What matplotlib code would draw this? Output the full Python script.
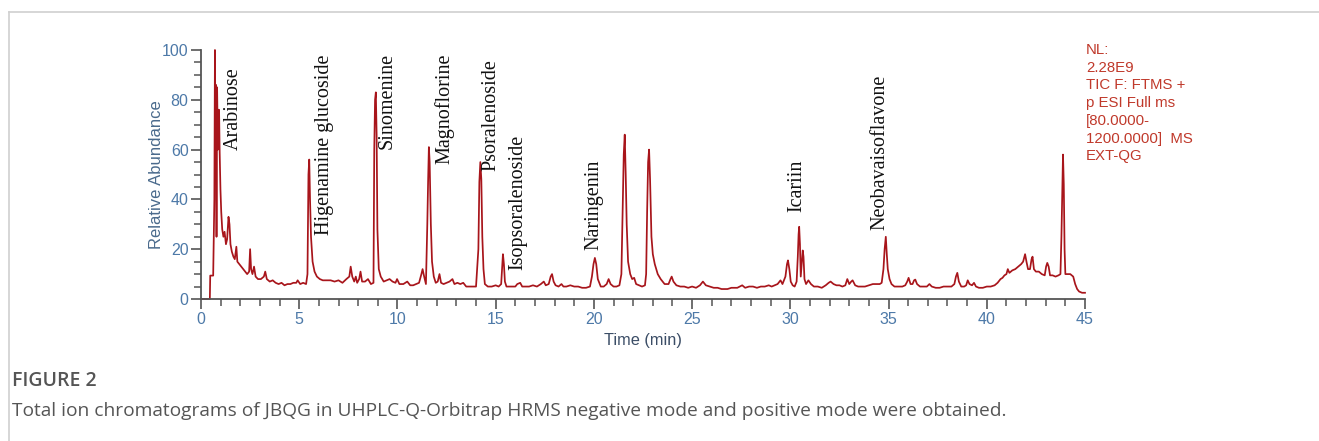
import matplotlib
matplotlib.use("Agg")
import matplotlib.pyplot as plt
from matplotlib.lines import Line2D
from matplotlib.ticker import MultipleLocator

# ---------------- data ----------------
time_min = [
    0.0, 0.45, 0.47, 0.62, 0.64, 0.68, 0.71, 0.74, 0.76, 0.79, 0.82, 0.86, 0.89, 0.92, 0.95, 0.99,
    1.03, 1.08, 1.14, 1.2, 1.27, 1.33, 1.4, 1.45, 1.5, 1.57, 1.65, 1.72, 1.8, 1.85, 1.95,
    2.05, 2.15, 2.25, 2.35, 2.45, 2.5, 2.55, 2.62, 2.7, 2.78, 2.9, 3.05, 3.2, 3.27, 3.35,
    3.5, 3.65, 3.8, 3.95, 4.1, 4.25, 4.4, 4.55, 4.7, 4.85, 4.92, 5.05, 5.2, 5.35, 5.42,
    5.47, 5.51, 5.55, 5.6, 5.68, 5.78, 5.9, 6.05, 6.2, 6.4, 6.6, 6.8, 7.0, 7.2, 7.4,
    7.55, 7.62, 7.7, 7.8, 7.88, 7.95, 8.05, 8.12, 8.2, 8.35, 8.5, 8.65, 8.78, 8.82, 8.86,
    8.9, 8.94, 8.98, 9.05, 9.15, 9.3, 9.45, 9.6, 9.75, 9.9, 9.98, 10.1, 10.3, 10.5, 10.65,
    10.8, 10.95, 11.1, 11.22, 11.28, 11.36, 11.45, 11.52, 11.56, 11.6, 11.64, 11.7, 11.76, 11.85, 11.95,
    12.05, 12.14, 12.22, 12.35, 12.5, 12.65, 12.8, 12.9, 13.05, 13.2, 13.35, 13.5, 13.7, 13.85, 14.0,
    14.12, 14.17, 14.22, 14.27, 14.32, 14.38, 14.45, 14.6, 14.8, 15.0, 15.15, 15.28, 15.33, 15.37, 15.42,
    15.47, 15.55, 15.7, 15.85, 16.0, 16.1, 16.25, 16.35, 16.5, 16.7, 16.9, 17.1, 17.3, 17.45, 17.55,
    17.7, 17.8, 17.87, 17.95, 18.05, 18.2, 18.35, 18.45, 18.6, 18.8, 19.0, 19.2, 19.4, 19.6, 19.8,
    19.9, 19.98, 20.05, 20.12, 20.2, 20.35, 20.5, 20.65, 20.75, 20.85, 21.0, 21.15, 21.3, 21.4, 21.45,
    21.52, 21.57, 21.62, 21.67, 21.74, 21.85, 21.95, 22.05, 22.15, 22.3, 22.45, 22.6, 22.66, 22.71, 22.76,
    22.81, 22.86, 22.93, 23.0, 23.1, 23.25, 23.4, 23.6, 23.8, 23.9, 23.96, 24.05, 24.2, 24.4, 24.6,
    24.8, 25.0, 25.2, 25.4, 25.55, 25.7, 25.9, 26.1, 26.3, 26.5, 26.8, 27.0, 27.3, 27.55, 27.7,
    27.9, 28.1, 28.3, 28.5, 28.7, 28.9, 29.05, 29.2, 29.35, 29.5, 29.6, 29.75, 29.83, 29.88, 29.95,
    30.02, 30.12, 30.22, 30.32, 30.38, 30.42, 30.45, 30.49, 30.53, 30.58, 30.63, 30.67, 30.72, 30.8, 30.92,
    31.05, 31.2, 31.4, 31.6, 31.8, 31.95, 32.05, 32.2, 32.35, 32.5, 32.65, 32.8, 32.9, 33.0, 33.1,
    33.17, 33.3, 33.45, 33.6, 33.8, 34.0, 34.2, 34.4, 34.55, 34.65, 34.74, 34.8, 34.86, 34.91, 34.96,
    35.05, 35.15, 35.3, 35.5, 35.7, 35.85, 35.95, 36.02, 36.12, 36.22, 36.3, 36.36, 36.45, 36.6, 36.8,
    36.95, 37.08, 37.2, 37.4, 37.6, 37.8, 38.0, 38.2, 38.35, 38.43, 38.5, 38.58, 38.7, 38.85, 38.95,
    39.03, 39.12, 39.25, 39.35, 39.45, 39.6, 39.8, 40.0, 40.2, 40.4, 40.55, 40.7, 40.8, 40.9, 41.0,
    41.07, 41.15, 41.3, 41.45, 41.6, 41.75, 41.85, 41.95, 42.02, 42.1, 42.2, 42.28, 42.33, 42.4, 42.5,
    42.65, 42.8, 42.95, 43.02, 43.08, 43.15, 43.22, 43.35, 43.5, 43.65, 43.75, 43.8, 43.85, 43.88, 43.92,
    43.96, 44.0, 44.1, 44.25, 44.4, 44.5, 44.6, 44.7, 44.85, 45.0,
]
relative_abundance = [
    0, 0, 9.4, 9.4, 20, 40, 100, 60, 86, 25, 85, 60, 76, 76, 59, 44,
    35, 28, 25, 27, 22, 24, 33, 30, 22, 19, 17, 16, 21, 15, 14,
    13, 12, 11, 10, 11, 20, 12, 10, 13, 9, 8, 8, 9, 11, 8,
    7, 7.5, 6.5, 6, 6.5, 5.5, 6, 6, 6.5, 6.5, 7.5, 6, 6.5, 6, 10,
    50, 56, 40, 25, 15, 11, 9, 8, 7.5, 7.5, 7.5, 7, 7.5, 6.5, 8,
    9, 13, 9, 7, 9, 6.5, 8, 11, 7, 7, 8, 6, 6.5, 60, 80,
    83, 66, 28, 12, 9, 7, 7.5, 8, 7, 6.5, 8, 6, 6, 7, 5.5,
    5.5, 6, 6.5, 10, 12, 9, 6, 30, 47, 61, 55, 30, 15, 9, 6.5,
    7, 10, 6.5, 6, 6.5, 7, 8, 6, 6.5, 6, 6.5, 5, 5, 5, 5,
    20, 47, 55, 48, 25, 12, 6, 5, 5, 5.5, 5, 6, 13, 18, 14,
    7, 5, 5, 5, 5, 6, 6.5, 5, 5, 5, 5.5, 5, 6, 7, 5.5,
    6, 9, 10, 7, 5.5, 5, 6, 5, 5, 5.5, 5, 5, 4.5, 4.5, 5,
    9, 14, 16.5, 14, 8, 5, 5, 6, 8, 6, 5, 5, 5.5, 10, 30,
    58, 66, 50, 30, 15, 10, 8, 8.5, 6, 5.5, 5, 5.5, 10, 35, 55,
    60, 48, 25, 18, 14, 10, 8, 6, 6, 8, 9, 7, 5.5, 5, 5,
    4.5, 5, 4.5, 5.5, 7, 5.5, 5, 4.5, 4.5, 4, 4, 4.5, 4.5, 5.5, 4.5,
    5, 5, 4.5, 5, 5, 5.5, 5, 5.5, 6, 7.5, 6, 9, 14, 15.5, 12,
    7, 5.5, 5, 7, 17, 26, 29, 22, 9, 14, 19.5, 17, 8, 6, 7.5,
    6, 5, 5, 4.5, 5.5, 6.5, 7, 6, 5.5, 5.5, 5, 5.5, 8, 6, 7,
    7.5, 5.5, 5, 5, 5, 5.5, 6, 6, 6, 6.5, 12, 20, 25, 18, 12,
    8, 6, 5, 5, 5, 5.5, 7, 8.5, 6, 6, 7.5, 7.8, 6, 5, 5,
    5, 6, 5, 4.5, 4.5, 5, 5, 5, 6, 9, 10.5, 7, 5, 5, 5.5,
    7.5, 6, 5.5, 6.5, 5, 4.5, 4.5, 5, 5, 5.5, 6.5, 8, 8.5, 9.5, 10,
    12, 10.5, 11.5, 12, 13, 14, 15, 18, 15, 12, 12, 16, 17, 12, 11,
    11, 10, 9.5, 13, 14.5, 13, 9.5, 9.5, 9, 9.5, 10, 25, 46, 58, 46,
    20, 10, 10, 10, 9, 6, 4, 3, 2.5, 2.5,
]

compound_names = ["Arabinose", "Higenamine glucoside", "Sinomenine", "Magnoflorine",
                  "Psoralenoside", "Isopsoralenoside", "Naringenin", "Icariin",
                  "Neobavaisoflavone"]
compound_x = [1.63, 6.31, 9.47, 12.37, 14.77, 16.14, 20.01, 30.35, 34.57]
compound_y = [59.8, 25.7, 60.2, 54.2, 51.4, 11.6, 19.7, 34.9, 27.7]

x_ticks = [0, 5, 10, 15, 20, 25, 30, 35, 40, 45]
y_ticks = [0, 20, 40, 60, 80, 100]

info_text = "NL:\n2.28E9\nTIC F: FTMS +\np ESI Full ms\n[80.0000-\n1200.0000]  MS\nEXT-QG"
caption_title = "FIGURE 2"
caption_body = ("Total ion chromatograms of JBQG in UHPLC-Q-Orbitrap HRMS negative mode "
                "and positive mode were obtained.")

# ---------------- figure ----------------
W, H = 1319, 441
fig = plt.figure(figsize=(W / 100, H / 100), dpi=100)
fig.patch.set_facecolor("white")

ax = fig.add_axes([201 / W, (H - 299) / H, (1085 - 201) / W, (299 - 50) / H])
line_color = "#a8151b"
ax.plot(time_min, relative_abundance, color=line_color, lw=1.25, clip_on=False)

ax.set_xlim(0, 45)
ax.set_ylim(0, 100)
for s in ["top", "right"]:
    ax.spines[s].set_visible(False)
for s in ["left", "bottom"]:
    ax.spines[s].set_color("#555555")
    ax.spines[s].set_linewidth(1.3)

ax.set_xticks(x_ticks)
ax.set_yticks(y_ticks)
ax.xaxis.set_minor_locator(MultipleLocator(1))
ax.yaxis.set_minor_locator(MultipleLocator(5))
tick_col = "#4d79a8"
ax.tick_params(axis="both", which="major", length=7, width=1.2, color="#555555",
               labelsize=11.5, labelcolor=tick_col, pad=2)
ax.tick_params(axis="both", which="minor", length=5, width=1.1, color="#555555")
for lab in ax.get_xticklabels() + ax.get_yticklabels():
    lab.set_family("Liberation Sans")

ax.set_xlabel("Time (min)", fontsize=11.8, color="#3b4d66", family="Liberation Sans", labelpad=5)
ax.set_ylabel("Relative Abundance", fontsize=12, color="#4a6a8c", family="Liberation Sans", labelpad=-1.5)

for name, x, y in zip(compound_names, compound_x, compound_y):
    ax.text(x, y, name, rotation=90, ha="center", va="bottom", fontsize=14.5,
            family="Liberation Serif", color="#111111", clip_on=False)

fig.text(1086 / W, 1 - 43 / H, info_text, ha="left", va="top", fontsize=10.8,
         family="Liberation Sans", color="#c0392b", linespacing=1.34)

# frame lines
fig.add_artist(Line2D([9 / W, 9 / W], [0, 1 - 12 / H], transform=fig.transFigure,
                      color="#d0d0d0", lw=1.2))
fig.add_artist(Line2D([9 / W, 1], [1 - 12 / H, 1 - 12 / H], transform=fig.transFigure,
                      color="#d0d0d0", lw=1.2))

fig.text(12 / W, 1 - 381 / H, caption_title, ha="left", va="center", fontsize=14,
         family="Open Sans", color="#555555", fontweight="semibold")
fig.text(12 / W, 1 - 411 / H, caption_body, ha="left", va="center", fontsize=13.8,
         family="Open Sans", color="#555555")

fig.savefig("out.png", dpi=100, facecolor="white")
